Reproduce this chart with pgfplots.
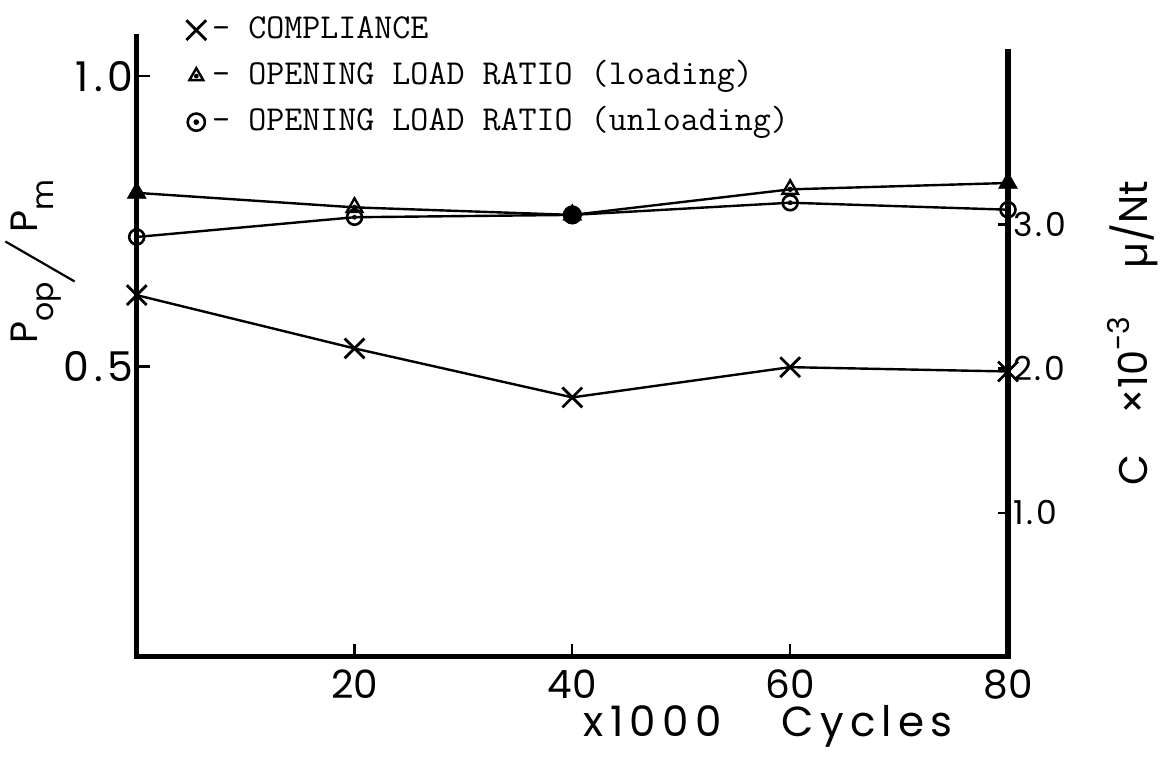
\documentclass[border=0pt]{standalone}
\usepackage{fontspec}
\setmainfont{Poppins}
\usepackage{graphicx}
\usepackage{pgfplots}
\usepackage{pgfplotstable}
\pgfplotsset{compat=1.18}

% cycles (x1000), opening load ratio on loading and unloading, compliance
\pgfplotstableread{
N     load   unload  compl
0     0.799  0.723   2.51
20    0.774  0.757   2.14
40    0.761  0.761   1.80
60    0.805  0.782   2.01
80    0.816  0.770   1.98
}\datatable

% open triangle with a dot in its centre
\pgfdeclareplotmark{dottri}{%
  \pgfpathmoveto{\pgfpointpolar{90}{\pgfplotmarksize}}%
  \pgfpathlineto{\pgfpointpolar{210}{\pgfplotmarksize}}%
  \pgfpathlineto{\pgfpointpolar{330}{\pgfplotmarksize}}%
  \pgfpathclose
  \pgfusepathqstroke
  \pgfpathcircle{\pgfpointorigin}{0.3\pgfplotmarksize}%
  \pgfusepathqfill
}
% open circle with a dot in its centre
\pgfdeclareplotmark{dotcirc}{%
  \pgfpathcircle{\pgfpointorigin}{\pgfplotmarksize}%
  \pgfusepathqstroke
  \pgfpathcircle{\pgfpointorigin}{0.33\pgfplotmarksize}%
  \pgfusepathqfill
}

\pgfplotsset{
  complstyle/.style={black, line width=1.2pt, mark=x, mark size=7pt,
    mark options={solid, line width=1.4pt}},
  loadstyle/.style={black, line width=1.2pt, mark=dottri, mark size=4.5pt,
    mark options={solid, line width=1.2pt, fill=black}},
  unloadstyle/.style={black, line width=1.2pt, mark=dotcirc, mark size=3.75pt,
    mark options={solid, line width=1.3pt, fill=black}},
  legloadstyle/.style={loadstyle, mark size=4pt},
  legunloadstyle/.style={unloadstyle, mark size=4.3pt},
}

\begin{document}
\begin{tikzpicture}
\path[use as bounding box] (-68.35pt,-51.15pt) rectangle (512.65pt,328.35pt);

% opening load ratio, left scale
\begin{axis}[
  at={(0pt,0pt)}, anchor=south west,
  scale only axis, width=435.65pt, height=310pt,
  xmin=0, xmax=80, ymin=0, ymax=1.068,
  axis x line*=bottom, axis y line*=left,
  axis line style={line width=2.7pt, line cap=rect},
  xtick={20,40,60,80}, xticklabels={20,40,60,80},
  ytick={0.5,1}, yticklabels={0.5,1.0},
  tick align=inside, major tick length=6.5pt,
  tick style={line width=1.1pt, black},
  xticklabel style={font=\fontsize{19.5}{19.5}\selectfont, inner sep=0pt, anchor=north, yshift=-6.5pt},
  yticklabel style={font=\fontsize{20.5}{20.5}\selectfont\addfontfeatures{LetterSpace=12},
    inner sep=0pt, anchor=east, xshift=-1.5pt},
  clip=false,
  xlabel={x\hspace{3pt}1000\hspace{30pt}Cycles},
  xlabel style={at={(axis description cs:0.725,0)}, anchor=base, yshift=-40pt,
    font=\fontsize{21}{21}\selectfont\addfontfeatures{LetterSpace=15}},
  ylabel={P\raisebox{-8pt}{\fontsize{15}{15}\selectfont op}\raisebox{-19pt}{\rotatebox{60}{\rule{40pt}{1.1pt}}}\hspace{4pt}P\raisebox{-8pt}{\fontsize{15}{15}\selectfont m}},
  ylabel style={at={(axis description cs:-0.111,0.637)}, anchor=center,
    font=\fontsize{19}{19}\selectfont},
  legend image code/.code={\draw[#1] plot coordinates {(0pt,0pt)};},
  legend cell align=left,
  legend style={draw=none, fill=none, inner sep=0pt, column sep=3pt, row sep=7pt,
    at={(axis description cs:0.0566,1.037)}, anchor=north west,
    font=\ttfamily\fontsize{17.5}{17.5}\selectfont,
    nodes={inner sep=0pt, text height=12pt, text depth=4pt}},
]
\addlegendimage{complstyle}
\addlegendentry{- COMPLIANCE}
\addlegendimage{legloadstyle}
\addlegendentry{- OPENING LOAD RATIO (loading)}
\addlegendimage{legunloadstyle}
\addlegendentry{- OPENING LOAD RATIO (unloading)}
\addplot[loadstyle] table[x=N, y=load] {\datatable};
\addplot[unloadstyle] table[x=N, y=unload] {\datatable};
% where the marks sit on the axis or on each other they merge into solid blots
\addplot[only marks, mark=triangle*, mark size=5pt, mark indices={1,5}] table[x=N, y=load] {\datatable};
\addplot[only marks, mark=*, mark size=4.6pt, mark indices={3}] table[x=N, y=unload] {\datatable};
\end{axis}

% compliance, right scale
\begin{axis}[
  at={(0pt,0pt)}, anchor=south west,
  scale only axis, width=435.65pt, height=302.5pt,
  xmin=0, xmax=80, ymin=0, ymax=4.2,
  axis y line*=right, axis x line=none,
  axis line style={line width=2.7pt, line cap=rect},
  ytick={1,2,3}, yticklabels={1.0,2.0,3.0},
  tick align=inside, major tick length=5pt,
  tick style={line width=1.1pt, black},
  yticklabel style={font=\fontsize{16.5}{16.5}\selectfont\addfontfeatures{LetterSpace=8},
    inner sep=0pt, anchor=west, xshift=2.5pt},
  clip=false,
  ylabel={C\hspace{20pt}×10\raisebox{9pt}{\fontsize{15}{15}\selectfont -3}\hspace{24pt}µ/Nt},
  ylabel style={at={(axis description cs:1.1435,0.535)}, anchor=center,
    font=\fontsize{20}{20}\selectfont},
]
\addplot[complstyle] table[x=N, y=compl] {\datatable};
\end{axis}
\end{tikzpicture}
\end{document}
